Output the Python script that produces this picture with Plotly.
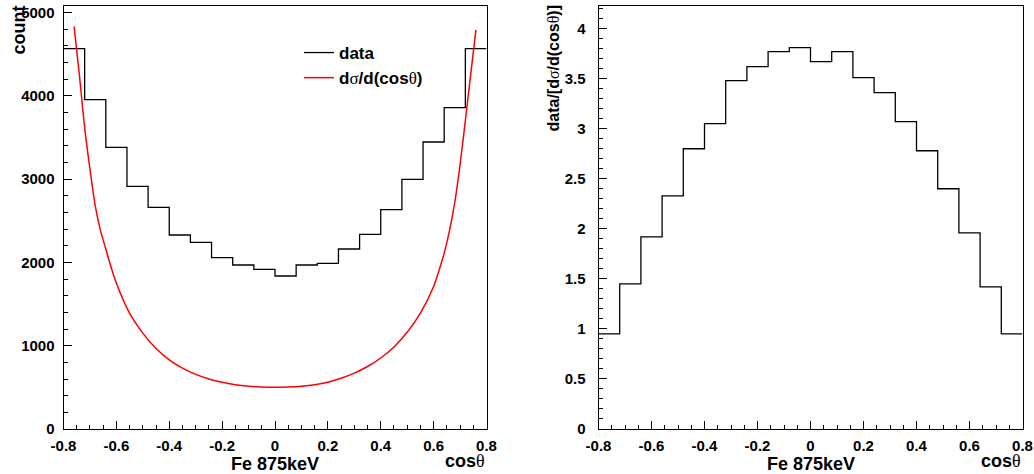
import plotly.graph_objects as go

# ---------------- data ----------------
bin_edges = [-0.80, -0.72, -0.64, -0.56, -0.48, -0.40, -0.32, -0.24, -0.16, -0.08,
             0.00, 0.08, 0.16, 0.24, 0.32, 0.40, 0.48, 0.56, 0.64, 0.72, 0.80]
data_counts = [4564, 3952, 3380, 2912, 2660, 2328, 2240, 2056, 1968, 1916,
               1836, 1968, 1988, 2160, 2336, 2632, 2996, 3444, 3856, 4564]
ratio_values = [0.95, 1.45, 1.92, 2.33, 2.80, 3.05, 3.48, 3.62, 3.77, 3.81,
                3.67, 3.77, 3.51, 3.36, 3.07, 2.78, 2.40, 1.96, 1.42, 0.95]
curve_cos = [-0.76, -0.74, -0.72, -0.70, -0.68, -0.66, -0.64, -0.62, -0.60, -0.55,
             -0.50, -0.45, -0.40, -0.35, -0.30, -0.25, -0.20, -0.15, -0.10, -0.05,
             0.00, 0.05, 0.10, 0.15, 0.20, 0.25, 0.30, 0.35, 0.40, 0.45,
             0.50, 0.55, 0.60, 0.62, 0.64, 0.66, 0.68, 0.70, 0.72, 0.74, 0.76]
curve_xsec = [4830, 4250, 3620, 3120, 2680, 2380, 2160, 1940, 1750, 1390,
              1150, 965, 830, 730, 655, 600, 560, 532, 514, 504,
              500, 504, 514, 532, 562, 608, 670, 750, 852, 985,
              1160, 1390, 1710, 1900, 2110, 2380, 2720, 3170, 3700, 4250, 4790]
x_ticks = [-0.8, -0.6, -0.4, -0.2, 0, 0.2, 0.4, 0.6, 0.8]
x_ticklabels = ["-0.8", "-0.6", "-0.4", "-0.2", "0", "0.2", "0.4", "0.6", "0.8"]
y1_ticks = [0, 1000, 2000, 3000, 4000, 5000]
y2_ticks = [0, 0.5, 1, 1.5, 2, 2.5, 3, 3.5, 4]
y2_ticklabels = ["0", "0.5", "1", "1.5", "2", "2.5", "3", "3.5", "4"]

W, H = 1034, 474
FONT = "Liberation Sans, Arial, Helvetica, sans-serif"
TH = "<span style=\"font-family:'Liberation Serif';font-weight:normal\">θ</span>"
SG = "<span style=\"font-family:'Liberation Serif';font-weight:normal\">σ</span>"

fig = go.Figure()

fig.add_trace(go.Scatter(
    x=bin_edges, y=data_counts + [data_counts[-1]], mode="lines",
    line=dict(color="black", width=1.3, shape="hv"),
    name="data", xaxis="x", yaxis="y"))
fig.add_trace(go.Scatter(
    x=curve_cos, y=curve_xsec, mode="lines",
    line=dict(color="red", width=1.5, shape="spline", smoothing=0.8),
    name=f"d{SG}/d(cos{TH})", xaxis="x", yaxis="y"))
fig.add_trace(go.Scatter(
    x=bin_edges, y=ratio_values + [ratio_values[-1]], mode="lines",
    line=dict(color="black", width=1.3, shape="hv"),
    showlegend=False, xaxis="x2", yaxis="y2"))

def px_x(p):
    return p / W

def px_y(p):
    return 1 - p / H

ydom = [px_y(429), px_y(6)]
tickfont = dict(family=FONT, size=15, color="black", weight="bold")
common_x = dict(range=[-0.8, 0.8], tickmode="array", tickvals=x_ticks, ticktext=x_ticklabels,
                ticks="inside", ticklen=8, tickwidth=1, tickcolor="black",
                minor=dict(dtick=0.05, ticks="inside", ticklen=4, tickwidth=1, tickcolor="black"),
                showline=True, linecolor="black", linewidth=1, mirror=True, automargin=False,
                showgrid=False, zeroline=False, tickfont=tickfont, ticklabelstandoff=3)
common_y = dict(ticks="inside", ticklen=8, tickwidth=1, tickcolor="black", automargin=False,
                showline=True, linecolor="black", linewidth=1, mirror=True,
                showgrid=False, zeroline=False, tickfont=tickfont)

fig.update_layout(
    width=W, height=H, margin=dict(l=0, r=0, t=0, b=0, autoexpand=False),
    paper_bgcolor="white", plot_bgcolor="white",
    font=dict(family=FONT, color="black"),
    xaxis=dict(domain=[px_x(63.5), px_x(486.5)], anchor="y", **common_x),
    yaxis=dict(domain=ydom, anchor="x", range=[0, 5076], tickmode="array",
               tickvals=y1_ticks, ticktext=[str(v) for v in y1_ticks],
               minor=dict(dtick=200, ticks="inside", ticklen=4, tickwidth=1, tickcolor="black"),
               ticklabelstandoff=5, **common_y),
    xaxis2=dict(domain=[px_x(598.5), px_x(1022.5)], anchor="y2", **common_x),
    yaxis2=dict(domain=ydom, anchor="x2", range=[0, 4.226], tickmode="array",
                tickvals=y2_ticks, ticktext=y2_ticklabels,
                minor=dict(dtick=0.1, ticks="inside", ticklen=4, tickwidth=1, tickcolor="black"),
                ticklabelstandoff=9, **common_y),
    legend=dict(x=px_x(299), y=px_y(35), xanchor="left", yanchor="top",
                bgcolor="rgba(0,0,0,0)", borderwidth=0,
                font=dict(family=FONT, size=17, color="black", weight="bold")),
    showlegend=True,
)

title_font = dict(family=FONT, size=18, color="black", weight="bold")
annots = [
    dict(text="count", x=px_x(18), y=px_y(4), xanchor="center", yanchor="top", textangle=-90),
    dict(text="Fe 875keV", x=px_x(275), y=px_y(464), xanchor="center", yanchor="middle"),
    dict(text=f"cos{TH}", x=px_x(487), y=px_y(461), xanchor="right", yanchor="middle"),
    dict(text="Fe 875keV", x=px_x(810.5), y=px_y(464), xanchor="center", yanchor="middle"),
    dict(text=f"cos{TH}", x=px_x(1023), y=px_y(461), xanchor="right", yanchor="middle"),
]
for a in annots:
    fig.add_annotation(xref="paper", yref="paper", showarrow=False, font=title_font, **a)
fig.add_annotation(xref="paper", yref="paper", showarrow=False,
                   text=f"data/[d{SG}/d(cos{TH})]", x=px_x(553), y=px_y(3),
                   xanchor="center", yanchor="top", textangle=-90,
                   font=dict(family=FONT, size=16, color="black", weight="bold"))

fig.write_html("out.html")
